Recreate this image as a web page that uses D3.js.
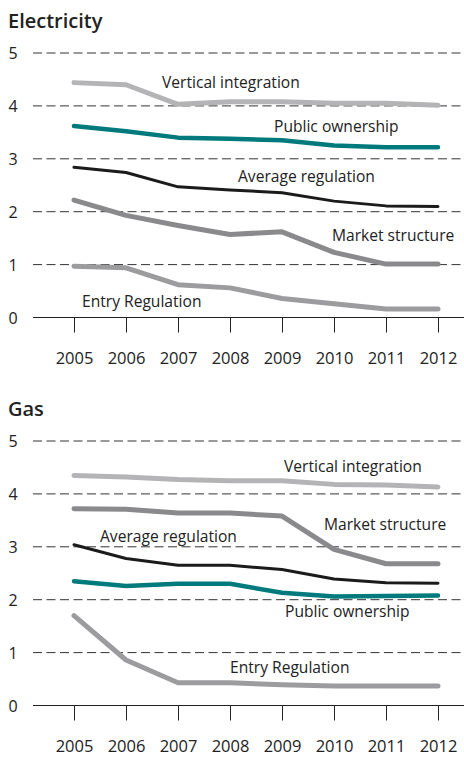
<!DOCTYPE html>
<html>
<head>
<meta charset="utf-8">
<script src="https://cdn.jsdelivr.net/npm/d3@7"></script>
<style>
  body { margin: 0; background: #fff; }
  text { font-family: "Open Sans", sans-serif; fill: #222; }
</style>
</head>
<body>
<svg id="chart" width="464" height="758"></svg>
<script>
const years = [2005, 2006, 2007, 2008, 2009, 2010, 2011, 2012];
const yTicks = [0, 1, 2, 3, 4, 5];

// Electricity
const elecVertical = [4.44, 4.40, 4.03, 4.08, 4.08, 4.05, 4.05, 4.01];
const elecPublic   = [3.62, 3.52, 3.40, 3.38, 3.35, 3.25, 3.22, 3.22];
const elecAverage  = [2.84, 2.74, 2.47, 2.41, 2.36, 2.20, 2.11, 2.10];
const elecMarket   = [2.22, 1.93, 1.74, 1.57, 1.62, 1.23, 1.01, 1.01];
const elecEntry    = [0.97, 0.94, 0.62, 0.56, 0.36, 0.26, 0.16, 0.16];

// Gas
const gasVertical = [4.35, 4.32, 4.27, 4.25, 4.25, 4.18, 4.17, 4.13];
const gasMarket   = [3.72, 3.71, 3.64, 3.64, 3.58, 2.95, 2.68, 2.68];
const gasAverage  = [3.04, 2.78, 2.65, 2.65, 2.57, 2.39, 2.32, 2.31];
const gasPublic   = [2.35, 2.26, 2.30, 2.30, 2.13, 2.06, 2.07, 2.08];
const gasEntry    = [1.70, 0.86, 0.43, 0.43, 0.39, 0.37, 0.37, 0.37];

const styles = {
  vertical: { color: "#b4b4b6", width: 5 },
  public:   { color: "#007a7c", width: 4.5 },
  average:  { color: "#1b1b1b", width: 3 },
  market:   { color: "#8a8a8d", width: 5 },
  entry:    { color: "#9c9c9e", width: 5 }
};

const svg = d3.select("#chart");

const x = d3.scalePoint()
            .domain(years)
            .range([74, 438]);

function drawPanel(title, top, series, labels) {
  const y = d3.scaleLinear()
              .domain([0, 5])
              .range([top + 264.5, top]);

  const g = svg.append("g");

  g.append("text")
   .attr("x", 8)
   .attr("y", top - 25)
   .attr("font-size", 20)
   .attr("font-weight", 600)
   .text(title);

  // dashed grid
  g.selectAll(".grid")
   .data(yTicks.filter(d => d > 0))
   .enter().append("line")
   .attr("x1", 33).attr("x2", 464)
   .attr("y1", d => y(d)).attr("y2", d => y(d))
   .attr("stroke", "#333")
   .attr("stroke-width", 1)
   .attr("stroke-dasharray", "9,4.5");

  g.selectAll(".ylab")
   .data(yTicks)
   .enter().append("text")
   .attr("x", 13)
   .attr("y", d => y(d) + 6)
   .attr("text-anchor", "middle")
   .attr("font-size", 16)
   .attr("fill", "#333")
   .text(d => d);

  // x axis
  const axis = g.append("g")
                .attr("transform", `translate(0,${y(0)})`)
                .call(d3.axisBottom(x).tickSize(15).tickPadding(20).tickFormat(d => d));
  axis.select(".domain").remove();
  axis.selectAll("line").attr("stroke", "#222");
  axis.selectAll("text")
      .attr("font-size", 16.5)
      .attr("font-family", "Open Sans, sans-serif")
      .attr("fill", "#222");
  g.append("line")
   .attr("x1", 33).attr("x2", 464)
   .attr("y1", y(0)).attr("y2", y(0))
   .attr("stroke", "#222");

  const line = d3.line()
                 .x((d, i) => x(years[i]))
                 .y(d => y(d));

  series.forEach(s => {
    g.append("path")
     .datum(s.values)
     .attr("d", line)
     .attr("fill", "none")
     .attr("stroke", styles[s.key].color)
     .attr("stroke-width", styles[s.key].width)
     .attr("stroke-linecap", "round")
     .attr("stroke-linejoin", "round");
  });

  g.selectAll(".lab")
   .data(labels)
   .enter().append("text")
   .attr("x", d => d.x)
   .attr("y", d => d.y)
   .attr("font-size", 15.6)
   .attr("fill", "#222")
   .text(d => d.text);
}

drawPanel("Electricity", 53,
  [
    { key: "vertical", values: elecVertical },
    { key: "public", values: elecPublic },
    { key: "average", values: elecAverage },
    { key: "market", values: elecMarket },
    { key: "entry", values: elecEntry }
  ],
  [
    { text: "Vertical integration", x: 162, y: 88 },
    { text: "Public ownership", x: 274, y: 132 },
    { text: "Average regulation", x: 238, y: 182 },
    { text: "Market structure", x: 332, y: 241 },
    { text: "Entry Regulation", x: 82, y: 307 }
  ]);

drawPanel("Gas", 441,
  [
    { key: "vertical", values: gasVertical },
    { key: "market", values: gasMarket },
    { key: "average", values: gasAverage },
    { key: "public", values: gasPublic },
    { key: "entry", values: gasEntry }
  ],
  [
    { text: "Vertical integration", x: 284, y: 472 },
    { text: "Market structure", x: 324, y: 530 },
    { text: "Average regulation", x: 100, y: 542 },
    { text: "Public ownership", x: 285, y: 617 },
    { text: "Entry Regulation", x: 230, y: 673 }
  ]);
</script>
</body>
</html>
